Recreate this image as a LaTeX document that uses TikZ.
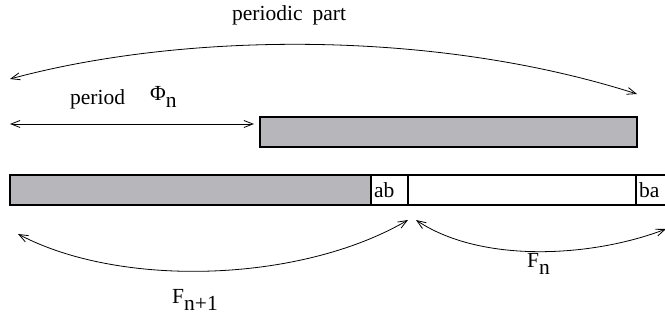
\documentclass[tikz,border=0pt]{standalone}
\usepackage{fontspec}
\setmainfont{Liberation Serif}
\usetikzlibrary{arrows.meta}
\definecolor{bargray}{RGB}{182,182,187}
\tikzset{
  lbl/.style={font=\fontsize{21.5}{24}\selectfont, inner sep=0pt, anchor=base west},
  conn/.style={line width=0.8pt, {Straight Barb[length=9pt,width=7pt]}-{Straight Barb[length=9pt,width=7pt]}},
  bar/.style={draw, line width=1.1pt}
}
\newcommand{\lowsub}[1]{\raisebox{-0.3em}{#1}}
\begin{document}
\begin{tikzpicture}[x=1pt,y=-1pt]
\useasboundingbox (0,0) rectangle (665,326);
% top
\node[lbl] (pp) at (232,21) {periodic\hspace{10pt}part};
\coordinate (ppL) at (10,79);
\coordinate (ppR) at (637,94);
\draw[conn] (ppL) .. controls (180,33) and (430,28) .. (ppR);
\node[lbl] (per) at (70,105) {period};
\node[lbl] (phi) at (150,101) {Φ\lowsub{n}};
\coordinate (perL) at (10,124);
\coordinate (perR) at (254,124);
\draw[conn] (perL) -- (perR);
\draw[bar, fill=bargray] (260,117) rectangle (637,147);
% bottom bar
\draw[bar, fill=bargray] (10,175) rectangle (371,205);
\draw[bar, fill=white] (371,175) rectangle (408,205);
\node[lbl] (ab) at (374,198) {ab};
\draw[bar] (408,175) -- (636,175) (408,205) -- (636,205);
\draw[bar] (636,175) -- (670,175) (636,205) -- (670,205) (636,175) -- (636,205);
\node[lbl] (ba) at (639,198) {ba};
% lower arcs
\coordinate (aL) at (18,234);
\coordinate (aM1) at (408,220);
\coordinate (aM2) at (416,220);
\coordinate (aR) at (666,229);
\draw[conn] (aL) .. controls (120,288) and (300,283) .. (aM1);
\draw[conn] (aM2) .. controls (480,263) and (590,258) .. (aR);
\node[lbl] (f1) at (172,304) {F\lowsub{n+1}};
\node[lbl] (f2) at (527,268) {F\lowsub{n}};
\end{tikzpicture}
\end{document}
